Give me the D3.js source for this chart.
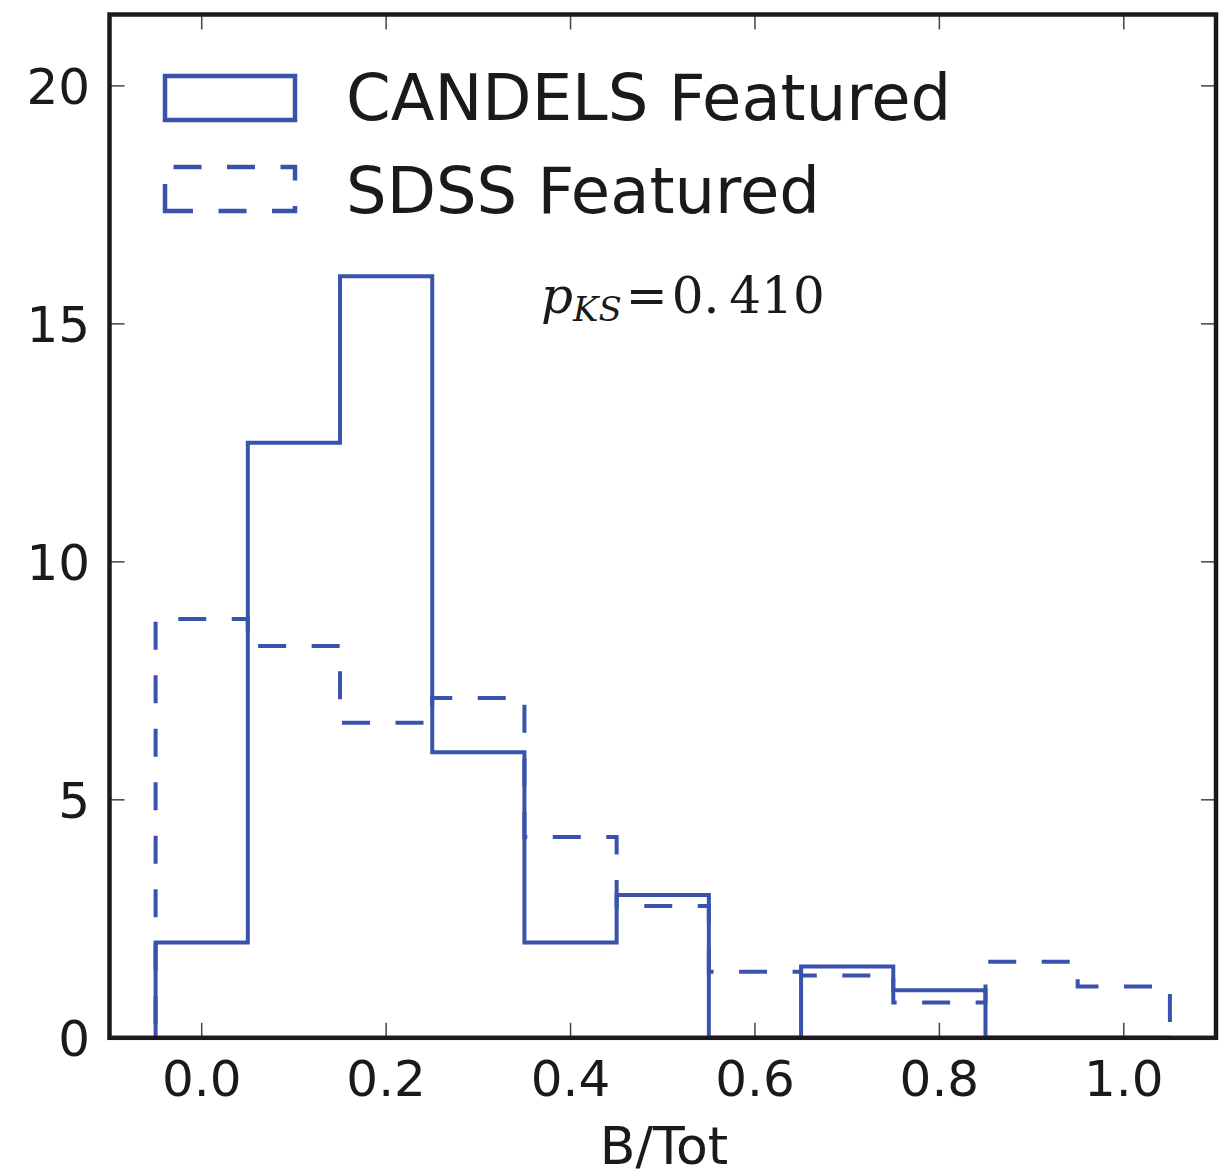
<!DOCTYPE html>
<html><head><meta charset="utf-8">
<script src="https://cdn.jsdelivr.net/npm/d3@7"></script>
<style>html,body{margin:0;padding:0;background:#fff;}</style>
</head><body>
<script>
// ---- data ----
const binEdges = [-0.05, 0.05, 0.15, 0.25, 0.35, 0.45, 0.55, 0.65, 0.75, 0.85, 0.95, 1.05];
const candelsValues = [2, 12.5, 16, 6, 2, 3, 0, 1.5, 1, 0, 0];
const sdssValues = [8.8, 8.23, 6.62, 7.14, 4.22, 2.77, 1.39, 1.31, 0.74, 1.6, 1.08];
const xTicks = [0.0, 0.2, 0.4, 0.6, 0.8, 1.0];
const yTicks = [0, 5, 10, 15, 20];
const seriesNames = ["CANDELS Featured", "SDSS Featured"];
const xLabel = "B/Tot";
const ksValue = "0.410";

(function () {
const W = 1231, H = 1176;
const pL = 109.5, pR = 1216, pT = 14.5, pB = 1037.8;
const color = "#3953ad";
const dash = "28,25.5";

const svg = d3.select("body").append("svg").attr("width", W).attr("height", H)
  .style("font-family", "'DejaVu Sans', sans-serif");

const x = d3.scaleLinear().domain([-0.1, 1.1]).range([pL, pR]);
const y = d3.scaleLinear().domain([0, 21.5]).range([pB, pT]);

function stepPoints(vals) {
  const pts = [[binEdges[0], 0]];
  vals.forEach((v, i) => { pts.push([binEdges[i], v]); pts.push([binEdges[i + 1], v]); });
  pts.push([binEdges[binEdges.length - 1], 0]);
  return pts;
}
const line = d3.line().x(d => x(d[0])).y(d => y(d[1]));

// histograms
svg.append("path").attr("d", line(stepPoints(sdssValues)))
  .attr("fill", "none").attr("stroke", color).attr("stroke-width", 4)
  .attr("stroke-dasharray", dash).attr("stroke-dashoffset", 40);
svg.append("path").attr("d", line(stepPoints(candelsValues)))
  .attr("fill", "none").attr("stroke", color).attr("stroke-width", 4)
  .attr("stroke-linejoin", "miter");

// ticks (inward, all four sides)
const tickColor = "#444", tl = 15;
const gx = svg.append("g");
xTicks.forEach(t => {
  gx.append("line").attr("x1", x(t)).attr("x2", x(t)).attr("y1", pB).attr("y2", pB - tl)
    .attr("stroke", tickColor).attr("stroke-width", 1.5);
  gx.append("line").attr("x1", x(t)).attr("x2", x(t)).attr("y1", pT).attr("y2", pT + tl)
    .attr("stroke", tickColor).attr("stroke-width", 1.5);
  gx.append("text").attr("x", x(t)).attr("y", 1096).attr("text-anchor", "middle")
    .attr("font-size", 50).attr("fill", "#1a1a1a").text(d3.format(".1f")(t));
});
yTicks.forEach(t => {
  gx.append("line").attr("x1", pL).attr("x2", pL + tl).attr("y1", y(t)).attr("y2", y(t))
    .attr("stroke", tickColor).attr("stroke-width", 1.5);
  gx.append("line").attr("x1", pR).attr("x2", pR - tl).attr("y1", y(t)).attr("y2", y(t))
    .attr("stroke", tickColor).attr("stroke-width", 1.5);
  gx.append("text").attr("x", 90).attr("y", y(t)).attr("dy", "0.36em").attr("text-anchor", "end")
    .attr("font-size", 50).attr("fill", "#1a1a1a").text(t);
});

// frame
svg.append("rect").attr("x", pL).attr("y", pT).attr("width", pR - pL).attr("height", pB - pT)
  .attr("fill", "none").attr("stroke", "#1a1a1a").attr("stroke-width", 4.5);

// axis label
svg.append("text").attr("x", 664).attr("y", 1164).attr("text-anchor", "middle")
  .attr("font-size", 52).attr("fill", "#1a1a1a").text(xLabel);

// legend
const leg = svg.append("g");
leg.append("rect").attr("x", 165).attr("y", 76).attr("width", 130).attr("height", 44)
  .attr("fill", "none").attr("stroke", color).attr("stroke-width", 4.5);
leg.append("path").attr("d", "M165,211 H295 V167 H165 Z")
  .attr("fill", "none").attr("stroke", color).attr("stroke-width", 4.5)
  .attr("stroke-dasharray", dash);
leg.append("text").attr("x", 346).attr("y", 120).attr("font-size", 64).attr("fill", "#1a1a1a").text(seriesNames[0]);
leg.append("text").attr("x", 346).attr("y", 213).attr("font-size", 64).attr("fill", "#1a1a1a").text(seriesNames[1]);

// KS annotation
const ks = svg.append("text").attr("x", 541).attr("y", 313).attr("font-family", "'DejaVu Serif', 'Liberation Serif', serif")
  .attr("font-size", 50).attr("fill", "#1a1a1a");
ks.append("tspan").attr("font-style", "italic").text("p");
ks.append("tspan").attr("font-style", "italic").attr("font-size", 34).attr("dy", 8).text("KS");
ks.append("tspan").attr("dy", -8).attr("dx", 4).text("=");
ks.append("tspan").attr("dx", 4).text(ksValue.slice(0, 2));
ks.append("tspan").attr("dx", 10).text(ksValue.slice(2));
})();
</script>
</body></html>
